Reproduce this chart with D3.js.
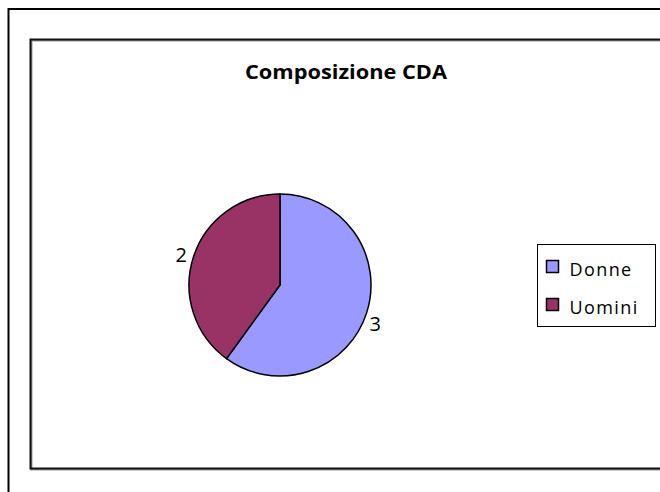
<!DOCTYPE html>
<html>
<head>
<meta charset="utf-8">
<script src="https://cdn.jsdelivr.net/npm/d3@7"></script>
<style>
  body { margin: 0; background: #fff; }
  svg { display: block; font-family: "Open Sans", "Noto Sans", sans-serif; }
</style>
</head>
<body>
<svg id="chart"></svg>
<script>
// data
var categories = ["Donne", "Uomini"]
var values = [3, 2]
var colors = ["#9999FF", "#993366"]
var title = "Composizione CDA"

var width = 660, height = 492

var svg = d3.select("#chart")
  .attr("width", width)
  .attr("height", height)

// outer frame (runs off the right and bottom edges)
svg.append("rect")
  .attr("x", 8.5).attr("y", 9)
  .attr("width", 700).attr("height", 600)
  .attr("fill", "none")
  .attr("stroke", "#000")
  .attr("stroke-width", 2)

// chart area frame with a light shadow
svg.append("rect")
  .attr("x", 31.5).attr("y", 40.5)
  .attr("width", 700).attr("height", 429)
  .attr("fill", "none")
  .attr("stroke", "#999")
  .attr("stroke-width", 2)
svg.append("rect")
  .attr("x", 30.5).attr("y", 39.5)
  .attr("width", 700).attr("height", 429)
  .attr("fill", "none")
  .attr("stroke", "#111")
  .attr("stroke-width", 2)

svg.append("text")
  .attr("x", 346).attr("y", 79)
  .attr("text-anchor", "middle")
  .attr("font-size", 20)
  .attr("font-weight", "bold")
  .attr("textLength", 202)
  .attr("lengthAdjust", "spacingAndGlyphs")
  .text(title)

// pie
var cx = 280, cy = 285, r = 91

var pie = d3.pie().sort(null).value(function (d) { return d })
var arcs = pie(values)
var arc = d3.arc().innerRadius(0).outerRadius(r)

var g = svg.append("g").attr("transform", "translate(" + cx + "," + cy + ")")

g.selectAll("path")
  .data(arcs)
  .enter()
  .append("path")
  .attr("d", arc)
  .attr("fill", function (d, i) { return colors[i] })
  .attr("stroke", "#000")
  .attr("stroke-width", 1.5)

// value labels just outside the slices
var labelAngles = [1.96, -1.28]
g.selectAll("text.val")
  .data(arcs)
  .enter()
  .append("text")
  .attr("class", "val")
  .attr("x", function (d, i) { return Math.sin(labelAngles[i]) * (r + 12) })
  .attr("y", function (d, i) { return -Math.cos(labelAngles[i]) * (r + 12) + 7 })
  .attr("text-anchor", "middle")
  .attr("font-size", 20)
  .text(function (d) { return d.data })

// legend
var legend = svg.append("g").attr("transform", "translate(537,244)")
legend.append("rect")
  .attr("x", 0.5).attr("y", 0.5)
  .attr("width", 118).attr("height", 82)
  .attr("fill", "#fff")
  .attr("stroke", "#000")
  .attr("stroke-width", 1)

var item = legend.selectAll("g.item")
  .data(categories)
  .enter()
  .append("g")
  .attr("class", "item")
  .attr("transform", function (d, i) { return "translate(9.5," + (16.5 + i * 38) + ")" })

item.append("rect")
  .attr("width", 12).attr("height", 12)
  .attr("fill", function (d, i) { return colors[i] })
  .attr("stroke", "#000")
  .attr("stroke-width", 1.5)

item.append("text")
  .attr("x", 23).attr("y", 15)
  .attr("font-size", 18)
  .attr("letter-spacing", 1.4)
  .text(function (d) { return d })
</script>
</body>
</html>
